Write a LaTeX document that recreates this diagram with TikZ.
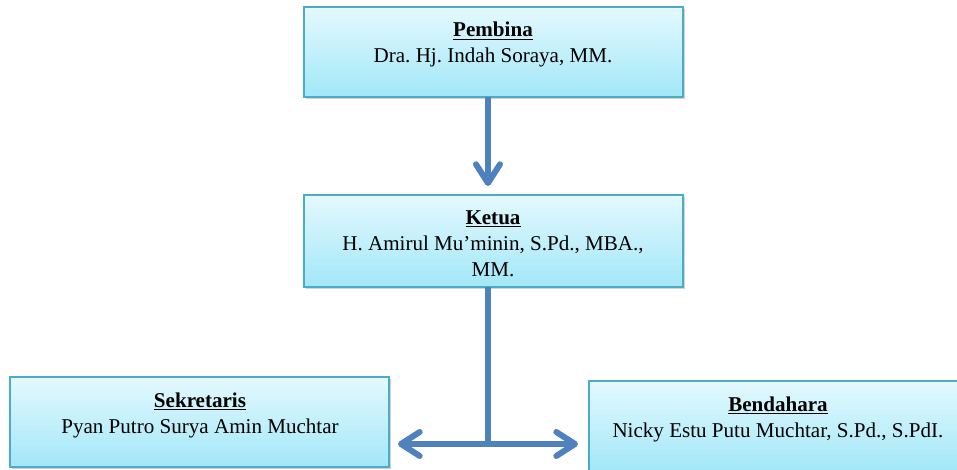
\documentclass[tikz,border=0pt]{standalone}
\usepackage{fontspec}
\setmainfont{Liberation Serif}
\usetikzlibrary{arrows.meta,shadows,calc}
\definecolor{boxtop}{RGB}{228,249,254}
\definecolor{boxbot}{RGB}{162,231,248}
\definecolor{boxline}{RGB}{75,172,198}
\definecolor{arrowblue}{RGB}{79,129,189}
\begin{document}
\frenchspacing
\begin{tikzpicture}[x=0.75pt,y=-0.75pt,
  box/.style={draw=boxline, line width=1.5pt, top color=boxtop, bottom color=boxbot,
    minimum width=284.25pt, minimum height=67.5pt, inner sep=0pt,
    drop shadow={opacity=0.35, shadow xshift=1.2pt, shadow yshift=-1.5pt}},
  lbl/.style={anchor=north, align=center, inner sep=0pt,
    font=\fontsize{15.8}{19.5}\selectfont},
  conn/.style={draw=arrowblue, line width=4.5pt},
  tip/.style={-{Straight Barb[length=14pt,width=18pt,round]}}
]
\useasboundingbox (0,0) rectangle (957,470);
% boxes
\node[box] (pembina) at (493.5,52) {};
\node[box, minimum height=69pt] (ketua) at (493.5,241) {};
\node[box] (sekretaris) at (199.5,422) {};
\node[box] (bendahara) at (778.5,426) {};
% texts
\node[lbl] (pembinaT) at (493,22) {\underline{\textbf{Pembina}}\\Dra. Hj. Indah Soraya, MM.};
\node[lbl] (ketuaT) at (493,210.5) {\underline{\textbf{Ketua}}\\H. Amirul Mu’minin, S.Pd., MBA.,\\MM.};
\node[lbl] (sekretarisT) at (200,392.5) {\underline{\textbf{Sekretaris}}\\Pyan Putro Surya Amin Muchtar};
\node[lbl] (bendaharaT) at (778,396.5) {\underline{\textbf{Bendahara}}\\Nicky Estu Putu Muchtar, S.Pd., S.PdI.};
% connectors
\coordinate (ptop) at (488,97);
\coordinate (ktip) at (488,186);
\coordinate (kbot) at (488,287);
\coordinate (junc) at (488,444);
\coordinate (ltip) at (398,444);
\coordinate (rtip) at (578,444);
\draw[conn, tip] (ptop) -- (ktip);
\draw[conn] (kbot) -- (junc);
\draw[conn, tip] (junc) -- (ltip);
\draw[conn, tip] (junc) -- (rtip);
\end{tikzpicture}
\end{document}
